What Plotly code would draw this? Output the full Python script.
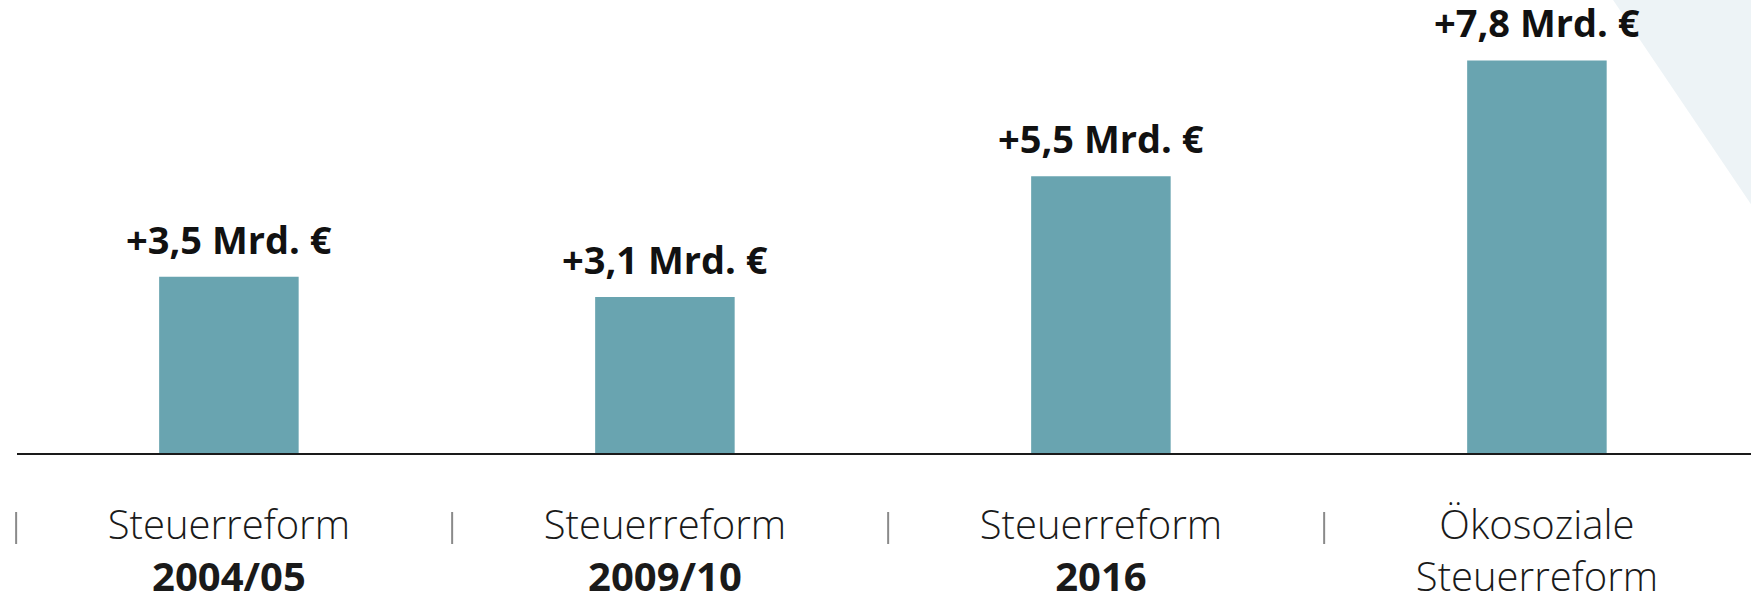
import plotly.graph_objects as go

# Data
categories = ["Steuerreform 2004/05", "Steuerreform 2009/10", "Steuerreform 2016", "Ökosoziale Steuerreform"]
tick_labels = [
    "Steuerreform<br><b>2004/05</b>",
    "Steuerreform<br><b>2009/10</b>",
    "Steuerreform<br><b>2016</b>",
    "Ökosoziale<br>Steuerreform",
]
values = [3.5, 3.1, 5.5, 7.8]
value_labels = ["+3,5 Mrd. €", "+3,1 Mrd. €", "+5,5 Mrd. €", "+7,8 Mrd. €"]

BAR_COLOR = "#69A4B0"
X_RANGE = [-0.486, 3.491]
Y_RANGE = [0, 9.0]
SEP_OFFSET = 0.012

fig = go.Figure()
fig.add_trace(go.Bar(
    x=categories, y=values, width=0.32,
    marker=dict(color=BAR_COLOR, line=dict(width=0)),
    hoverinfo="skip",
))

# Value labels above bars
for c, v, t in zip(categories, values, value_labels):
    fig.add_annotation(
        x=c, y=v, xref="x", yref="y", text=f"<b>{t}</b>", showarrow=False,
        yanchor="bottom", yshift=10,
        font=dict(family="Open Sans", size=38, color="#111111"),
    )

# Background triangle (top right)
fig.add_shape(
    type="path", xref="paper", yref="paper", layer="below",
    path="M 0.9187 1.01 L 1.01 1.01 L 1.01 0.4923 Z",
    fillcolor="#EDF3F6", line=dict(width=0),
)

# Separators between category labels
span = X_RANGE[1] - X_RANGE[0]
for i in range(len(categories)):
    xd = (i - 0.5 + SEP_OFFSET - X_RANGE[0]) / span
    fig.add_shape(
        type="line", xref="x domain", yref="paper",
        x0=xd, x1=xd, y0=-0.1302, y1=-0.2009,
        line=dict(color="#8A8A8A", width=2),
    )

fig.update_layout(
    width=1751, height=597,
    margin=dict(l=17, r=0, t=0, b=144, autoexpand=False),
    plot_bgcolor="rgba(0,0,0,0)", paper_bgcolor="white",
    showlegend=False,
)
fig.update_xaxes(
    type="category", range=X_RANGE, automargin=False,
    tickmode="array", tickvals=categories, ticktext=tick_labels,
    tickfont=dict(family="Open Sans", size=40, color="#1a1a1a", weight=300),
    showline=True, linecolor="#1a1a1a", linewidth=2,
    ticks="", showgrid=False, zeroline=False,
    ticklabelstandoff=36,
)
fig.update_yaxes(
    range=Y_RANGE, visible=False, showgrid=False, zeroline=False, automargin=False,
)

fig.write_html(
    "out.html",
    config={"displayModeBar": False},
    post_script="document.body.style.margin='0';document.body.style.overflow='hidden';",
)
